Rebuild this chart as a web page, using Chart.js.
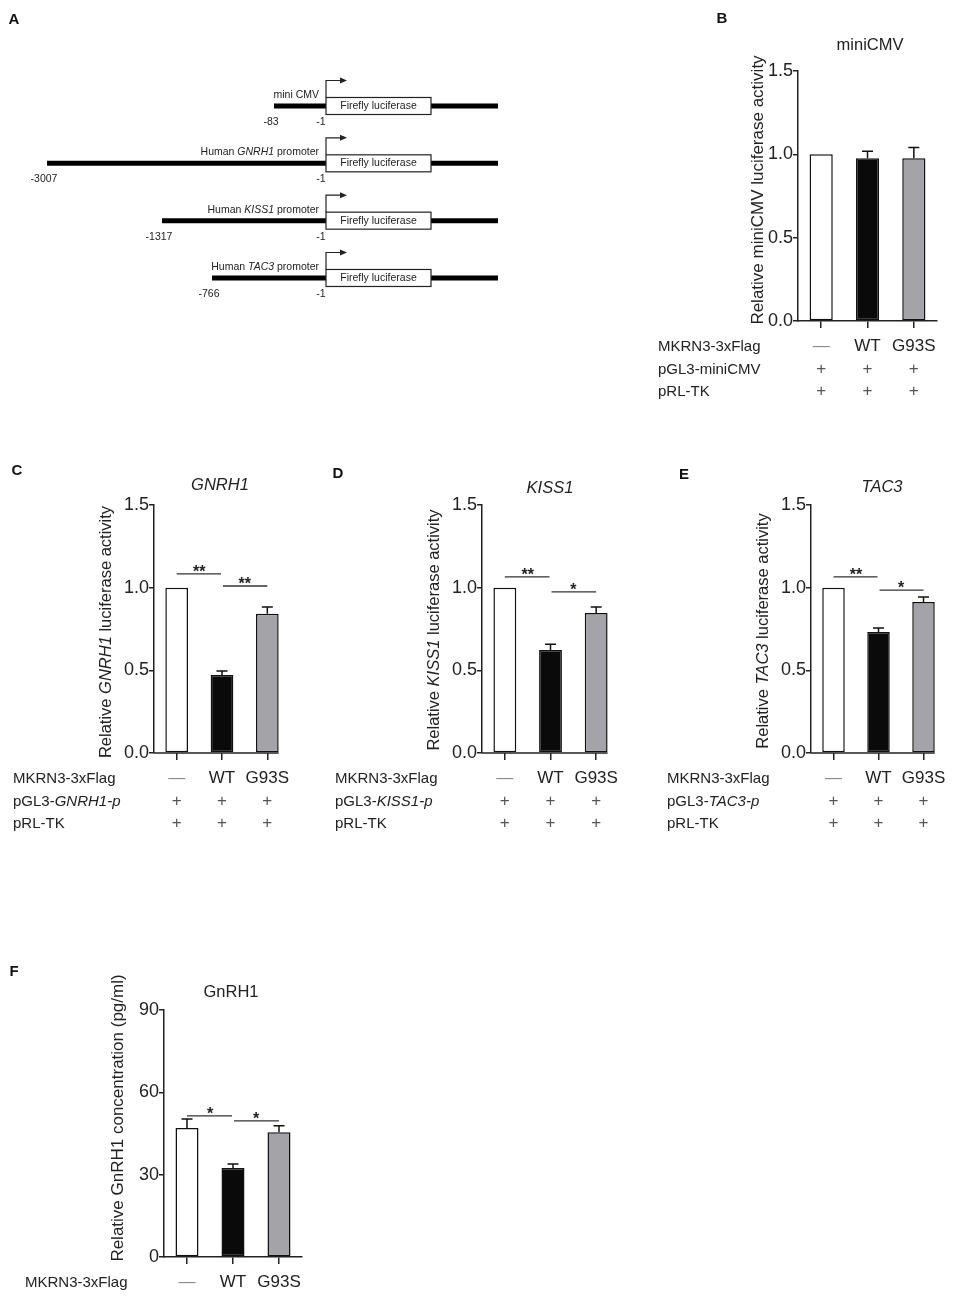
<!DOCTYPE html>
<html>
<head>
<meta charset="utf-8">
<script src="https://cdn.jsdelivr.net/npm/chart.js@4.4.1/dist/chart.umd.min.js"></script>
<style>
  html, body { margin: 0; padding: 0; background: #fff; }
  #figure { position: relative; width: 957px; height: 1296px; overflow: hidden; }
  #figure canvas { position: absolute; }
</style>
</head>
<body>
<div id="figure">
  <canvas id="panel-a"></canvas>
  <canvas id="panel-b"></canvas>
  <canvas id="panel-c"></canvas>
  <canvas id="panel-d"></canvas>
  <canvas id="panel-e"></canvas>
  <canvas id="panel-f"></canvas>
</div>
<script>
var FONT = '"Liberation Sans", Arial, sans-serif';
var AXIS_COLOR = '#222';

// ---- Data ----

// Panel A: reporter constructs
var constructLabels = [
  [['mini CMV', false]],
  [['Human ', false], ['GNRH1', true], [' promoter', false]],
  [['Human ', false], ['KISS1', true], [' promoter', false]],
  [['Human ', false], ['TAC3', true], [' promoter', false]]
];
var promoterStartLabels = ['-83', '-3007', '-1317', '-766'];
var tssLabel = '-1';
var reporterLabel = 'Firefly luciferase';

// Bar panels
var groupLabels = ['\u2014', 'WT', 'G93S'];
var plusRow = ['+', '+', '+'];
var luciferaseTicks = [0, 0.5, 1.0, 1.5];
var concentrationTicks = [0, 30, 60, 90];
var bracketPairs = [[0, 1], [1, 2]];

var miniCmvValues = [1.00, 0.976, 0.976];
var miniCmvErrors = [0, 0.042, 0.065];

var gnrh1Values = [1.00, 0.472, 0.842];
var gnrh1Errors = [0, 0.024, 0.041];
var gnrh1Brackets = [1.083, 1.010];
var gnrh1Stars = ['**', '**'];

var kiss1Values = [1.00, 0.623, 0.847];
var kiss1Errors = [0, 0.035, 0.036];
var kiss1Brackets = [1.065, 0.975];
var kiss1Stars = ['**', '*'];

var tac3Values = [1.00, 0.732, 0.913];
var tac3Errors = [0, 0.024, 0.030];
var tac3Brackets = [1.065, 0.985];
var tac3Stars = ['**', '*'];

var gnrhConcValues = [47.0, 32.4, 45.5];
var gnrhConcErrors = [3.3, 1.5, 2.3];
var gnrhConcBrackets = [51.4, 49.6];
var gnrhConcStars = ['*', '*'];

// ---- Styles / layout ----
var barFills = ['#ffffff', '#0a0a0a', '#a3a3a8'];
var rowOffsets = [25.5, 48.5, 70.5];

// schematic is not to scale: drawing units are pixels from the TSS
var schematicStartX = [-52, -279, -164, -114];
var schematicEndX = 172;
var schematicBoxEnd = 105;

function setFont(ctx, size, italic, bold) {
  ctx.font = (italic ? 'italic ' : '') + (bold ? 'bold ' : '') + size + 'px ' + FONT;
}

function richWidth(ctx, parts, size) {
  var w = 0;
  parts.forEach(function(p) {
    setFont(ctx, size, p[1]);
    w += ctx.measureText(p[0]).width;
  });
  return w;
}

function drawRich(ctx, parts, x, y, size, align, color) {
  var w = richWidth(ctx, parts, size);
  var cx = align === 'center' ? x - w / 2 : (align === 'right' ? x - w : x);
  ctx.fillStyle = color || '#222';
  ctx.textAlign = 'left';
  ctx.textBaseline = 'middle';
  parts.forEach(function(p) {
    setFont(ctx, size, p[1]);
    ctx.fillText(p[0], cx, y);
    cx += ctx.measureText(p[0]).width;
  });
}

function drawLetter(ctx, letter, x, y) {
  setFont(ctx, 15, false, true);
  ctx.fillStyle = '#111';
  ctx.textAlign = 'center';
  ctx.textBaseline = 'middle';
  ctx.fillText(letter, x, y);
}

function placeCanvas(id, L) {
  var canvas = document.getElementById(id);
  canvas.width = L.width;
  canvas.height = L.height;
  canvas.style.left = L.left + 'px';
  canvas.style.top = L.top + 'px';
  return canvas;
}

// ---- Panel A ----
var schematicPlugin = {
  id: 'schematic',
  afterDatasetsDraw: function(chart) {
    var ctx = chart.ctx;
    var xs = chart.scales.x, ys = chart.scales.y;
    var x0 = xs.getPixelForValue(0);
    var xBox = xs.getPixelForValue(schematicBoxEnd);
    ctx.save();
    drawLetter(ctx, 'A', 14, 20);
    constructLabels.forEach(function(label, i) {
      var yRow = ys.getPixelForValue(i);
      var boxTop = yRow - 8.5;
      // reporter box
      ctx.fillStyle = '#fff';
      ctx.fillRect(x0, boxTop, xBox - x0, 17);
      ctx.strokeStyle = '#222';
      ctx.lineWidth = 1.2;
      ctx.strokeRect(x0, boxTop, xBox - x0, 17);
      drawRich(ctx, [[reporterLabel, false]], (x0 + xBox) / 2, yRow, 10.5, 'center');
      // TSS arrow
      var yArrow = boxTop - 17;
      var xArrow = xs.getPixelForValue(15);
      ctx.beginPath();
      ctx.moveTo(x0, boxTop);
      ctx.lineTo(x0, yArrow);
      ctx.lineTo(xArrow, yArrow);
      ctx.stroke();
      ctx.fillStyle = '#222';
      ctx.beginPath();
      ctx.moveTo(xArrow - 1, yArrow - 3);
      ctx.lineTo(xArrow + 6, yArrow);
      ctx.lineTo(xArrow - 1, yArrow + 3);
      ctx.closePath();
      ctx.fill();
      // labels
      drawRich(ctx, label, x0 - 7, yRow - 11, 10.5, 'right');
      drawRich(ctx, [[promoterStartLabels[i], false]], xs.getPixelForValue(schematicStartX[i]) - 3, yRow + 16, 10.5, 'center');
      drawRich(ctx, [[tssLabel, false]], x0 - 5, yRow + 16, 10.5, 'center');
    });
    ctx.restore();
  }
};

var layoutA = { left: 0, top: 0, width: 600, height: 320 };
var canvasA = placeCanvas('panel-a', layoutA);
new Chart(canvasA.getContext('2d'), {
  type: 'scatter',
  data: {
    datasets: constructLabels.map(function(c, i) {
      return {
        data: [{ x: schematicStartX[i], y: i }, { x: schematicEndX, y: i }],
        showLine: true,
        borderColor: '#000',
        borderWidth: 5,
        pointRadius: 0
      };
    })
  },
  options: {
    responsive: false,
    animation: false,
    events: [],
    layout: { padding: 0 },
    plugins: { legend: { display: false }, tooltip: { enabled: false } },
    scales: {
      x: { type: 'linear', display: false, min: -326, max: 274 },
      y: { type: 'linear', display: false, reverse: true, min: -1.849, max: 3.733 }
    }
  },
  plugins: [schematicPlugin]
});

// ---- Bar panels ----
function makeBarPlugin(L, P) {
  return {
    id: 'barPanel',
    afterDatasetsDraw: function(chart) {
      var ctx = chart.ctx;
      var xs = chart.scales.x, ys = chart.scales.y;
      var area = chart.chartArea;
      var bars = chart.getDatasetMeta(0).data;
      var values = chart.data.datasets[0].data;
      var ox = L.left, oy = L.top;
      ctx.save();

      // custom x axis line ending at the last bar
      if (P.axisToLastBar) {
        var last = bars[bars.length - 1];
        ctx.strokeStyle = AXIS_COLOR;
        ctx.lineWidth = 1.5;
        ctx.beginPath();
        ctx.moveTo(area.left, area.bottom);
        ctx.lineTo(last.x + last.width / 2, area.bottom);
        ctx.stroke();
      }

      // error bars (upper only)
      ctx.strokeStyle = '#111';
      ctx.lineWidth = 1.5;
      P.errors.forEach(function(e, i) {
        if (!e) return;
        var bx = bars[i].x;
        var yTop = ys.getPixelForValue(values[i]);
        var yEnd = ys.getPixelForValue(values[i] + e);
        ctx.beginPath();
        ctx.moveTo(bx, yTop);
        ctx.lineTo(bx, yEnd);
        ctx.moveTo(bx - 5.5, yEnd);
        ctx.lineTo(bx + 5.5, yEnd);
        ctx.stroke();
      });

      // significance brackets
      if (P.brackets) {
        ctx.strokeStyle = '#333';
        ctx.lineWidth = 1.3;
        P.brackets.forEach(function(h, k) {
          var a = xs.getPixelForValue(bracketPairs[k][0]);
          var b = xs.getPixelForValue(bracketPairs[k][1]);
          var yb = ys.getPixelForValue(h);
          ctx.beginPath();
          ctx.moveTo(a + (k ? 1 : 0), yb);
          ctx.lineTo(b - (k ? 0 : 1), yb);
          ctx.stroke();
          setFont(ctx, 16, false, true);
          ctx.fillStyle = '#222';
          ctx.textAlign = 'center';
          ctx.textBaseline = 'alphabetic';
          ctx.fillText(P.stars[k], (a + b) / 2, yb + 3);
        });
      }

      // texts
      drawLetter(ctx, L.letterText, L.letter[0] - ox, L.letter[1] - oy);
      drawRich(ctx, P.title, L.title[0] - ox, L.title[1] - oy, 16.5, 'center');
      ctx.save();
      ctx.translate(L.yTitle[0] - ox, L.yTitle[1] - oy);
      ctx.rotate(-Math.PI / 2);
      drawRich(ctx, P.yTitle, 0, 0, L.yTitleSize || 16.5, 'center');
      ctx.restore();

      // table under the axis
      P.rowHeaders.forEach(function(parts, r) {
        var yr = area.bottom + rowOffsets[r];
        drawRich(ctx, parts, L.rowX - ox, yr, 15, 'left');
        P.table[r].forEach(function(cell, i) {
          var color = cell === '+' ? '#555' : (cell === '\u2014' ? '#8a8a8a' : '#222');
          drawRich(ctx, [[cell, false]], xs.getPixelForValue(i), yr, 17, 'center', color);
        });
      });
      ctx.restore();
    }
  };
}

function makeBarPanel(id, L, P) {
  var canvas = placeCanvas(id, L);
  return new Chart(canvas.getContext('2d'), {
    type: 'bar',
    data: {
      labels: groupLabels,
      datasets: [{
        data: P.values,
        backgroundColor: barFills,
        borderColor: '#111',
        borderWidth: 1.5,
        borderSkipped: false,
        categoryPercentage: 1,
        barPercentage: 0.5
      }]
    },
    options: {
      responsive: false,
      animation: false,
      events: [],
      layout: { padding: { top: L.plotTop - L.top, right: L.left + L.width - L.axisRight, left: 0, bottom: 0 } },
      plugins: { legend: { display: false }, tooltip: { enabled: false } },
      scales: {
        x: {
          grid: { display: true, offset: false, drawOnChartArea: false, drawTicks: true, tickLength: 7, color: AXIS_COLOR, lineWidth: 1.5 },
          border: { display: !P.axisToLastBar, color: AXIS_COLOR, width: 1.5 },
          ticks: { display: false },
          afterFit: function(s) { s.height = L.top + L.height - L.plotBottom; }
        },
        y: {
          min: P.ticks[0],
          max: P.ticks[P.ticks.length - 1],
          afterBuildTicks: function(s) { s.ticks = P.ticks.map(function(v) { return { value: v }; }); },
          ticks: {
            font: { family: FONT, size: 18 },
            color: '#222',
            padding: 0,
            callback: function(v) { return Number(v).toFixed(P.decimals); }
          },
          grid: { drawOnChartArea: false, tickLength: 5, color: AXIS_COLOR, lineWidth: 1.5 },
          border: { color: AXIS_COLOR, width: 1.5 },
          afterFit: function(s) { s.width = L.axisX - L.left; }
        }
      }
    },
    plugins: [makeBarPlugin(L, P)]
  });
}

var mkrnHeader = [['MKRN3-3xFlag', false]];
var rlHeader = [['pRL-TK', false]];

makeBarPanel('panel-b',
  { left: 640, top: 0, width: 317, height: 410, axisX: 798, plotTop: 71, plotBottom: 321, axisRight: 937,
    letterText: 'B', letter: [722, 19], title: [870, 45], yTitle: [758, 190], yTitleSize: 17, rowX: 658 },
  { values: miniCmvValues, errors: miniCmvErrors, ticks: luciferaseTicks, decimals: 1,
    title: [['miniCMV', false]],
    yTitle: [['Relative miniCMV luciferase activity', false]],
    rowHeaders: [mkrnHeader, [['pGL3-miniCMV', false]], rlHeader],
    table: [groupLabels, plusRow, plusRow] });

makeBarPanel('panel-c',
  { left: 0, top: 455, width: 320, height: 380, axisX: 154, plotTop: 505, plotBottom: 753, axisRight: 290,
    letterText: 'C', letter: [17, 471], title: [220, 485], yTitle: [106, 632], rowX: 13 },
  { values: gnrh1Values, errors: gnrh1Errors, ticks: luciferaseTicks, decimals: 1,
    brackets: gnrh1Brackets, stars: gnrh1Stars, axisToLastBar: true,
    title: [['GNRH1', true]],
    yTitle: [['Relative ', false], ['GNRH1', true], [' luciferase activity', false]],
    rowHeaders: [mkrnHeader, [['pGL3-', false], ['GNRH1-p', true]], rlHeader],
    table: [groupLabels, plusRow, plusRow] });

makeBarPanel('panel-d',
  { left: 320, top: 455, width: 320, height: 380, axisX: 482, plotTop: 505, plotBottom: 753, axisRight: 619,
    letterText: 'D', letter: [338, 474], title: [550, 488], yTitle: [434, 630], rowX: 335 },
  { values: kiss1Values, errors: kiss1Errors, ticks: luciferaseTicks, decimals: 1,
    brackets: kiss1Brackets, stars: kiss1Stars, axisToLastBar: true,
    title: [['KISS1', true]],
    yTitle: [['Relative ', false], ['KISS1', true], [' luciferase activity', false]],
    rowHeaders: [mkrnHeader, [['pGL3-', false], ['KISS1-p', true]], rlHeader],
    table: [groupLabels, plusRow, plusRow] });

makeBarPanel('panel-e',
  { left: 640, top: 455, width: 317, height: 380, axisX: 811, plotTop: 505, plotBottom: 753, axisRight: 946,
    letterText: 'E', letter: [684, 475], title: [882, 487], yTitle: [763, 631], rowX: 667 },
  { values: tac3Values, errors: tac3Errors, ticks: luciferaseTicks, decimals: 1,
    brackets: tac3Brackets, stars: tac3Stars, axisToLastBar: true,
    title: [['TAC3', true]],
    yTitle: [['Relative ', false], ['TAC3', true], [' luciferase activity', false]],
    rowHeaders: [mkrnHeader, [['pGL3-', false], ['TAC3-p', true]], rlHeader],
    table: [groupLabels, plusRow, plusRow] });

makeBarPanel('panel-f',
  { left: 0, top: 955, width: 330, height: 341, axisX: 164, plotTop: 1010, plotBottom: 1257, axisRight: 302,
    letterText: 'F', letter: [14, 972], title: [231, 992], yTitle: [118, 1118], yTitleSize: 17, rowX: 25 },
  { values: gnrhConcValues, errors: gnrhConcErrors, ticks: concentrationTicks, decimals: 0,
    brackets: gnrhConcBrackets, stars: gnrhConcStars,
    title: [['GnRH1', false]],
    yTitle: [['Relative GnRH1 concentration (pg/ml)', false]],
    rowHeaders: [mkrnHeader],
    table: [groupLabels] });
</script>
</body>
</html>
